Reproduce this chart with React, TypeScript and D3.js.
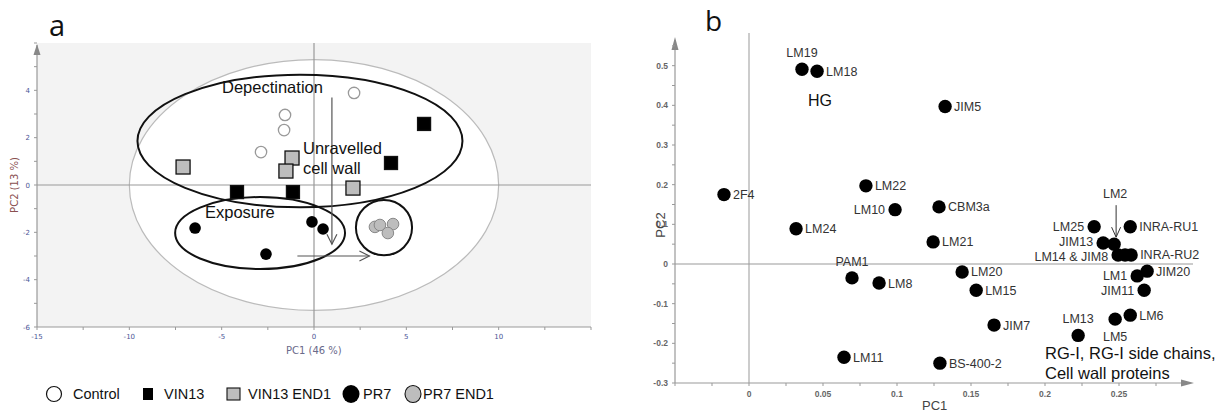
import React from "react";
import * as d3 from "d3";

// ---- panel a : PCA scores ----
const controlPts = [[-1.57, 2.96], [-1.62, 2.32], [-2.87, 1.39], [2.17, 3.89]];
const vin13Pts = [[5.96, 2.58], [4.17, 0.93], [-4.17, -0.3], [-1.14, -0.3]];
const vin13End1Pts = [[-7.09, 0.76], [-1.19, 1.14], [-1.52, 0.59], [2.11, -0.13]];
const pr7Pts = [[-6.44, -1.82], [-2.6, -2.92], [-0.11, -1.56], [0.49, -1.86]];
const pr7End1Pts = [[3.3, -1.77], [3.57, -1.69], [4.28, -1.65], [4.0, -2.03]];

const xTicksA = [-15, -10, -5, 0, 5, 10];
const yTicksA = [4, 2, 0, -2, -4, -6];

// group ellipses in score units: [cx, cy, rx, ry]
const groupEllipses = [[-0.76, 1.86, 8.8, 2.8], [-2.92, -2.03, 4.6, 1.52], [3.79, -1.8, 1.52, 1.17]];
const hotelling = [0, 0, 10, 5.3];

const legendLabels = ["Control", "VIN13", "VIN13 END1", "PR7", "PR7 END1"];

// ---- panel b : loadings ----
const antibodies = ["LM19", "LM18", "JIM5", "2F4", "LM22", "LM10", "CBM3a", "LM24", "LM21", "PAM1", "LM8",
  "LM11", "BS-400-2", "LM25", "INRA-RU1", "JIM13", "LM2", "LM14", "JIM8", "INRA-RU2", "LM20", "LM15",
  "LM1", "JIM20", "JIM11", "LM6", "LM5", "LM13", "JIM7"];
const pc1 = [0.0358, 0.046, 0.1325, -0.0169, 0.079, 0.0987, 0.1284, 0.0318, 0.1244, 0.0696, 0.0879,
  0.0642, 0.129, 0.2332, 0.2576, 0.2393, 0.2467, 0.2494, 0.2541, 0.2582, 0.144, 0.1535,
  0.2623, 0.269, 0.267, 0.2576, 0.2474, 0.2224, 0.1656];
const pc2 = [0.491, 0.486, 0.397, 0.175, 0.197, 0.137, 0.144, 0.089, 0.0557, -0.035, -0.048,
  -0.235, -0.25, 0.094, 0.094, 0.053, 0.05, 0.0228, 0.0228, 0.0228, -0.02, -0.066,
  -0.03, -0.018, -0.066, -0.129, -0.139, -0.18, -0.154];
const labelSide = ["t", "r", "r", "r", "r", "l", "r", "r", "r", "t", "r",
  "r", "r", "l", "r", "l", "arrow", "l", "none", "r", "r", "r",
  "l", "r", "l", "r", "b", "t", "r"];
const labelText: Record<string, string> = { LM14: "LM14  & JIM8" };

const xTicksB = [0, 0.05, 0.1, 0.15, 0.2, 0.25];
const yTicksB = [0.5, 0.4, 0.3, 0.2, 0.1, 0, -0.1, -0.2, -0.3];

const SANS = "Liberation Sans, Arial, sans-serif";

const App = () => {
  // panel a scales
  const xa = d3.scaleLinear().domain([-15, 15]).range([37, 591]);
  const ya = d3.scaleLinear().domain([-6, 6]).range([327, 43]);
  // panel b scales
  const xb = d3.scaleLinear().domain([-0.05, 0.3]).range([675, 1193]);
  const yb = d3.scaleLinear().domain([-0.3, 0]).range([383, 264]);

  const kx = xa(1) - xa(0);
  const ky = ya(0) - ya(1);
  const sq = (p: number[], i: number, fill: string, s: number) => (
    <rect key={i} x={xa(p[0]) - s / 2} y={ya(p[1]) - s / 2} width={s} height={s}
      fill={fill} stroke="#111" strokeWidth={1.3} />
  );

  const minorA = d3.range(-15, 15.1, 2.5);
  const minorAy = d3.range(-6, 6.1, 1);
  const minorB = d3.range(-0.05, 0.3, 0.025);
  const minorBy = d3.range(-0.3, 0.56, 0.05);

  const legendX = [53, 148, 233, 351, 413];

  return (
    <div style={{ position: "absolute", left: 0, top: 0 }}>
      <svg width={1223} height={412} style={{ display: "block", background: "#fff" }}>
        {/* ======== panel a ======== */}
        <text x={49} y={36} fontFamily="Open Sans, sans-serif" fontSize={29} fill="#111">a</text>
        <rect x={xa(-15)} y={ya(6)} width={xa(15) - xa(-15)} height={ya(-6) - ya(6)} fill="#f3f3f3" />
        <ellipse cx={xa(hotelling[0])} cy={ya(hotelling[1])} rx={hotelling[2] * kx} ry={hotelling[3] * ky}
          fill="#fff" stroke="#bbb" strokeWidth={1.2} />
        <line x1={xa(0)} x2={xa(0)} y1={ya(6)} y2={ya(-6)} stroke="#999" strokeWidth={1.2} />
        <line x1={xa(-15)} x2={xa(15)} y1={ya(0)} y2={ya(0)} stroke="#999" strokeWidth={1.2} />
        {/* axes */}
        <line x1={xa(-15)} x2={xa(-15)} y1={ya(-6)} y2={ya(6) + 2} stroke="#999" strokeWidth={1.2} />
        <path d={`M${xa(-15) - 3.5},${ya(6) + 12}L${xa(-15)},${ya(6) + 1}L${xa(-15) + 3.5},${ya(6) + 12}Z`} fill="#888" />
        <line x1={xa(-15)} x2={xa(15)} y1={ya(-6)} y2={ya(-6)} stroke="#999" strokeWidth={1.2} />
        {minorA.map((t, i) => (
          <line key={"mx" + i} x1={xa(t)} x2={xa(t)} y1={ya(-6)} y2={ya(-6) + 3} stroke="#999" />
        ))}
        {minorAy.map((t, i) => (
          <line key={"my" + i} x1={xa(-15) - 3} x2={xa(-15)} y1={ya(t)} y2={ya(t)} stroke="#999" />
        ))}
        {xTicksA.map(t => (
          <text key={"xt" + t} x={xa(t)} y={ya(-6) + 12} textAnchor="middle" fontFamily="DejaVu Sans, sans-serif"
            fontSize={7} fill="#4b5596">{t}</text>
        ))}
        {yTicksA.map(t => (
          <text key={"yt" + t} x={xa(-15) - 7} y={ya(t) + 2.5} textAnchor="end" fontFamily="DejaVu Sans, sans-serif"
            fontSize={7} fill="#4b5596">{t}</text>
        ))}
        <text x={xa(0) - 28} y={354} fontFamily="DejaVu Sans, sans-serif" fontSize={10} fill="#6a6a8a">PC1 (46 %)</text>
        <text transform={`translate(18,${ya(0)}) rotate(-90)`} textAnchor="middle" fontFamily="DejaVu Sans, sans-serif"
          fontSize={10} fill="#8a5050">PC2 (13 %)</text>

        {/* group ellipses */}
        {groupEllipses.map((e, i) => (
          <ellipse key={"ge" + i} cx={xa(e[0])} cy={ya(e[1])} rx={e[2] * kx} ry={e[3] * ky}
            fill="none" stroke="#111" strokeWidth={2} />
        ))}

        {/* arrows */}
        <line x1={xa(0.97)} x2={xa(0.97)} y1={ya(3.7)} y2={ya(-2.5)} stroke="#555" strokeWidth={1.2} />
        <path d={`M${xa(0.97) - 5},${ya(-2.5) - 10}L${xa(0.97)},${ya(-2.5)}L${xa(0.97) + 5},${ya(-2.5) - 10}`}
          fill="none" stroke="#555" strokeWidth={1.2} />
        <line x1={xa(-0.9)} x2={xa(3.0)} y1={ya(-3)} y2={ya(-3)} stroke="#555" strokeWidth={1.2} />
        <path d={`M${xa(3.0) - 10},${ya(-3) - 5}L${xa(3.0)},${ya(-3)}L${xa(3.0) - 10},${ya(-3) + 5}`}
          fill="none" stroke="#555" strokeWidth={1.2} />

        {/* points */}
        {controlPts.map((p, i) => (
          <circle key={"c" + i} cx={xa(p[0])} cy={ya(p[1])} r={5.7} fill="#fff" stroke="#999" strokeWidth={1.3} />
        ))}
        {vin13End1Pts.map((p, i) => sq(p, i + 100, "#bdbdbd", 14))}
        {vin13Pts.map((p, i) => sq(p, i + 200, "#000", 13))}
        {pr7Pts.map((p, i) => (
          <circle key={"p" + i} cx={xa(p[0])} cy={ya(p[1])} r={5.8} fill="#000" />
        ))}
        {pr7End1Pts.map((p, i) => (
          <circle key={"pe" + i} cx={xa(p[0])} cy={ya(p[1])} r={5.8} fill="#bdbdbd" stroke="#888" strokeWidth={1} />
        ))}

        {/* annotations */}
        <text x={222} y={93} fontFamily={SANS} fontSize={16.5} fill="#111">Depectination</text>
        <text x={303} y={154} fontFamily={SANS} fontSize={16.5} fill="#111">Unravelled</text>
        <text x={303} y={174} fontFamily={SANS} fontSize={16.5} fill="#111">cell wall</text>
        <text x={205} y={218} fontFamily={SANS} fontSize={16.5} fill="#111">Exposure</text>

        {/* legend */}
        <g fontFamily={SANS} fontSize={14.5} fill="#111">
          <circle cx={legendX[0] + 1} cy={394} r={7.5} fill="#fff" stroke="#111" strokeWidth={1.2} />
          <text x={legendX[0] + 20} y={399}>{legendLabels[0]}</text>
          <rect x={legendX[1] - 5} y={388} width={10} height={12} fill="#000" />
          <text x={legendX[1] + 16} y={399}>{legendLabels[1]}</text>
          <rect x={legendX[2] - 6} y={388} width={13} height={12} fill="#bdbdbd" stroke="#111" strokeWidth={1.1} />
          <text x={legendX[2] + 15} y={399}>{legendLabels[2]}</text>
          <ellipse cx={legendX[3]} cy={394} rx={8.5} ry={9} fill="#000" />
          <text x={legendX[3] + 12} y={399}>{legendLabels[3]}</text>
          <ellipse cx={legendX[4]} cy={394} rx={8} ry={8.5} fill="#bdbdbd" stroke="#111" strokeWidth={1.1} />
          <text x={legendX[4] + 10} y={399}>{legendLabels[4]}</text>
        </g>

        {/* ======== panel b ======== */}
        <text x={705} y={31} fontFamily="Open Sans, sans-serif" fontSize={28} fill="#111">b</text>
        <line x1={xb(0)} x2={xb(0)} y1={33} y2={yb(-0.3)} stroke="#aaa" strokeWidth={1.2} />
        <line x1={xb(-0.05)} x2={xb(0.3)} y1={yb(0)} y2={yb(0)} stroke="#999" strokeWidth={1.2} />
        <line x1={xb(-0.05)} x2={xb(-0.05)} y1={yb(-0.3)} y2={40} stroke="#999" strokeWidth={1.2} />
        <path d={`M${xb(-0.05) - 3.5},${50}L${xb(-0.05)},${37}L${xb(-0.05) + 3.5},${50}Z`} fill="#888" />
        <line x1={xb(-0.05)} x2={xb(0.3) - 8} y1={yb(-0.3)} y2={yb(-0.3)} stroke="#999" strokeWidth={1.2} />
        <path d={`M${xb(0.3) - 12},${yb(-0.3) - 3.5}L${xb(0.3) + 1},${yb(-0.3)}L${xb(0.3) - 12},${yb(-0.3) + 3.5}Z`} fill="#888" />
        {minorB.map((t, i) => (
          <line key={"bx" + i} x1={xb(t)} x2={xb(t)} y1={yb(-0.3)} y2={yb(-0.3) + 3} stroke="#999" />
        ))}
        {minorBy.map((t, i) => (
          <line key={"by" + i} x1={xb(-0.05) - 3} x2={xb(-0.05)} y1={yb(t)} y2={yb(t)} stroke="#999" />
        ))}
        {xTicksB.map(t => (
          <text key={"bxt" + t} x={xb(t)} y={yb(-0.3) + 14} textAnchor="middle" fontFamily={SANS}
            fontSize={8.5} fontWeight="bold" fill="#666">{t}</text>
        ))}
        {yTicksB.map(t => (
          <text key={"byt" + t} x={xb(-0.05) - 7} y={yb(t) + 3} textAnchor="end" fontFamily={SANS}
            fontSize={8.5} fontWeight="bold" fill="#666">{t}</text>
        ))}
        <text x={922} y={410} fontFamily={SANS} fontSize={13} fill="#444">PC1</text>
        <text transform={`translate(665,225) rotate(-90)`} textAnchor="middle" fontFamily={SANS} fontSize={13}
          fill="#444">PC2</text>

        {antibodies.map((name, i) => {
          const cx = xb(pc1[i]);
          const cy = yb(pc2[i]);
          const side = labelSide[i];
          const txt = labelText[name] ?? name;
          let lx = cx + 9, ly = cy + 4.5, anchor = "start";
          if (side === "l") { lx = cx - 10; anchor = "end"; }
          if (side === "t") { lx = cx; ly = cy - 12; anchor = "middle"; }
          if (side === "b") { lx = cx; ly = cy + 22; anchor = "middle"; }
          if (name === "JIM13") ly = cy + 3;
          if (name === "LM14") ly = cy + 6;
          return (
            <g key={"ab" + i}>
              <circle cx={cx} cy={cy} r={6.7} fill="#000" />
              {side !== "none" && side !== "arrow" && (
                <text x={lx} y={ly} textAnchor={anchor} fontFamily={SANS} fontSize={12.5} fill="#333">{txt}</text>
              )}
              {side === "arrow" && (
                <g>
                  <text x={cx + 1} y={cy - 46} textAnchor="middle" fontFamily={SANS} fontSize={12.5} fill="#333">{txt}</text>
                  <line x1={cx + 2} x2={cx + 2} y1={cy - 39} y2={cy - 7} stroke="#333" strokeWidth={1} />
                  <path d={`M${cx - 2.5},${cy - 17}L${cx + 2},${cy - 7}L${cx + 6.5},${cy - 17}`} fill="none"
                    stroke="#333" strokeWidth={1} />
                </g>
              )}
            </g>
          );
        })}
        <text x={808} y={106} fontFamily={SANS} fontSize={16} fill="#111">HG</text>
        <text x={1045} y={359} fontFamily={SANS} fontSize={16.5} fill="#111">RG-I, RG-I side chains,</text>
        <text x={1045} y={379} fontFamily={SANS} fontSize={16.5} fill="#111">Cell wall proteins</text>
      </svg>
    </div>
  );
};

export default App;
